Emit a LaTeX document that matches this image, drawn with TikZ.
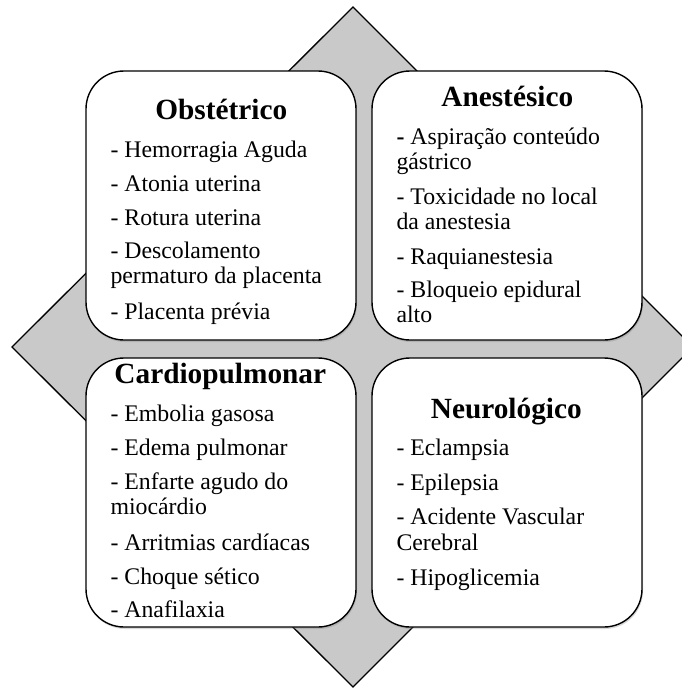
\documentclass[tikz,border=0pt]{standalone}
\usepackage{fontspec}
\setmainfont{Liberation Serif}
\usetikzlibrary{shadows}
\definecolor{diamondgray}{RGB}{201,201,201}
\tikzset{box/.style={draw=black, line width=1.4pt, fill=white, rounded corners=38pt, minimum width=270pt, minimum height=269pt, inner sep=0pt, drop shadow={shadow xshift=1pt, shadow yshift=-2pt, opacity=0.3}},
  title/.style={anchor=base, inner sep=0pt, font=\fontsize{29.3}{30}\selectfont\bfseries},
  item/.style={anchor=base west, inner sep=0pt, font=\fontsize{23.8}{25}\selectfont}}

\begin{document}
\begin{tikzpicture}[x=1pt, y=-1pt]
  \useasboundingbox (0,0) rectangle (681,688);
  \draw[fill=diamondgray, line width=1.3pt, line join=miter]
    (353,7) -- (693,347) -- (353,687) -- (12,347) -- cycle;

  \node[box] (obst) at (221,205.5) {};
  \node[box] (anest) at (507,205.5) {};
  \node[box] (cardio) at (221,492.5) {};
  \node[box] (neuro) at (507,492.5) {};

  \begin{scope}[shift={(obst.north west)}]
    \node[title] (obst-t) at (136,49) {Obstétrico};
    \node[item] (obst-1) at (25,87) {- Hemorragia Aguda};
    \node[item] (obst-2) at (25,121) {- Atonia uterina};
    \node[item] (obst-3) at (25,155) {- Rotura uterina};
    \node[item] (obst-4) at (25,188) {- Descolamento};
    \node[item] (obst-4b) at (25,213) {permaturo da placenta};
    \node[item] (obst-5) at (25,249) {- Placenta prévia};
  \end{scope}

  \begin{scope}[shift={(anest.north west)}]
    \node[title] (anest-t) at (136,36) {Anestésico};
    \node[item] (anest-1) at (25,74) {\textbf{-} Aspiração conteúdo};
    \node[item] (anest-1b) at (25,99) {gástrico};
    \node[item] (anest-2) at (25,134) {- Toxicidade no local};
    \node[item] (anest-2b) at (25,159) {da anestesia};
    \node[item] (anest-3) at (25,194) {- Raquianestesia};
    \node[item] (anest-4) at (25,227) {- Bloqueio epidural};
    \node[item] (anest-4b) at (25,252) {alto};
  \end{scope}

  \begin{scope}[shift={(cardio.north west)}]
    \node[title] (cardio-t) at (135,26) {Cardiopulmonar};
    \node[item] (cardio-1) at (25,64) {- Embolia gasosa};
    \node[item] (cardio-2) at (25,98) {- Edema pulmonar};
    \node[item] (cardio-3) at (25,132) {- Enfarte agudo do};
    \node[item] (cardio-3b) at (25,157) {miocárdio};
    \node[item] (cardio-4) at (25,193) {- Arritmias cardíacas};
    \node[item] (cardio-5) at (25,227) {- Choque sético};
    \node[item] (cardio-6) at (25,260) {- Anafilaxia};
  \end{scope}

  \begin{scope}[shift={(neuro.north west)}]
    \node[title] (neuro-t) at (135,61) {Neurológico};
    \node[item] (neuro-1) at (25,98) {- Eclampsia};
    \node[item] (neuro-2) at (25,133) {- Epilepsia};
    \node[item] (neuro-3) at (25,167) {- Acidente Vascular};
    \node[item] (neuro-3b) at (25,193) {Cerebral};
    \node[item] (neuro-4) at (25,228) {- Hipoglicemia};
  \end{scope}
\end{tikzpicture}
\end{document}
